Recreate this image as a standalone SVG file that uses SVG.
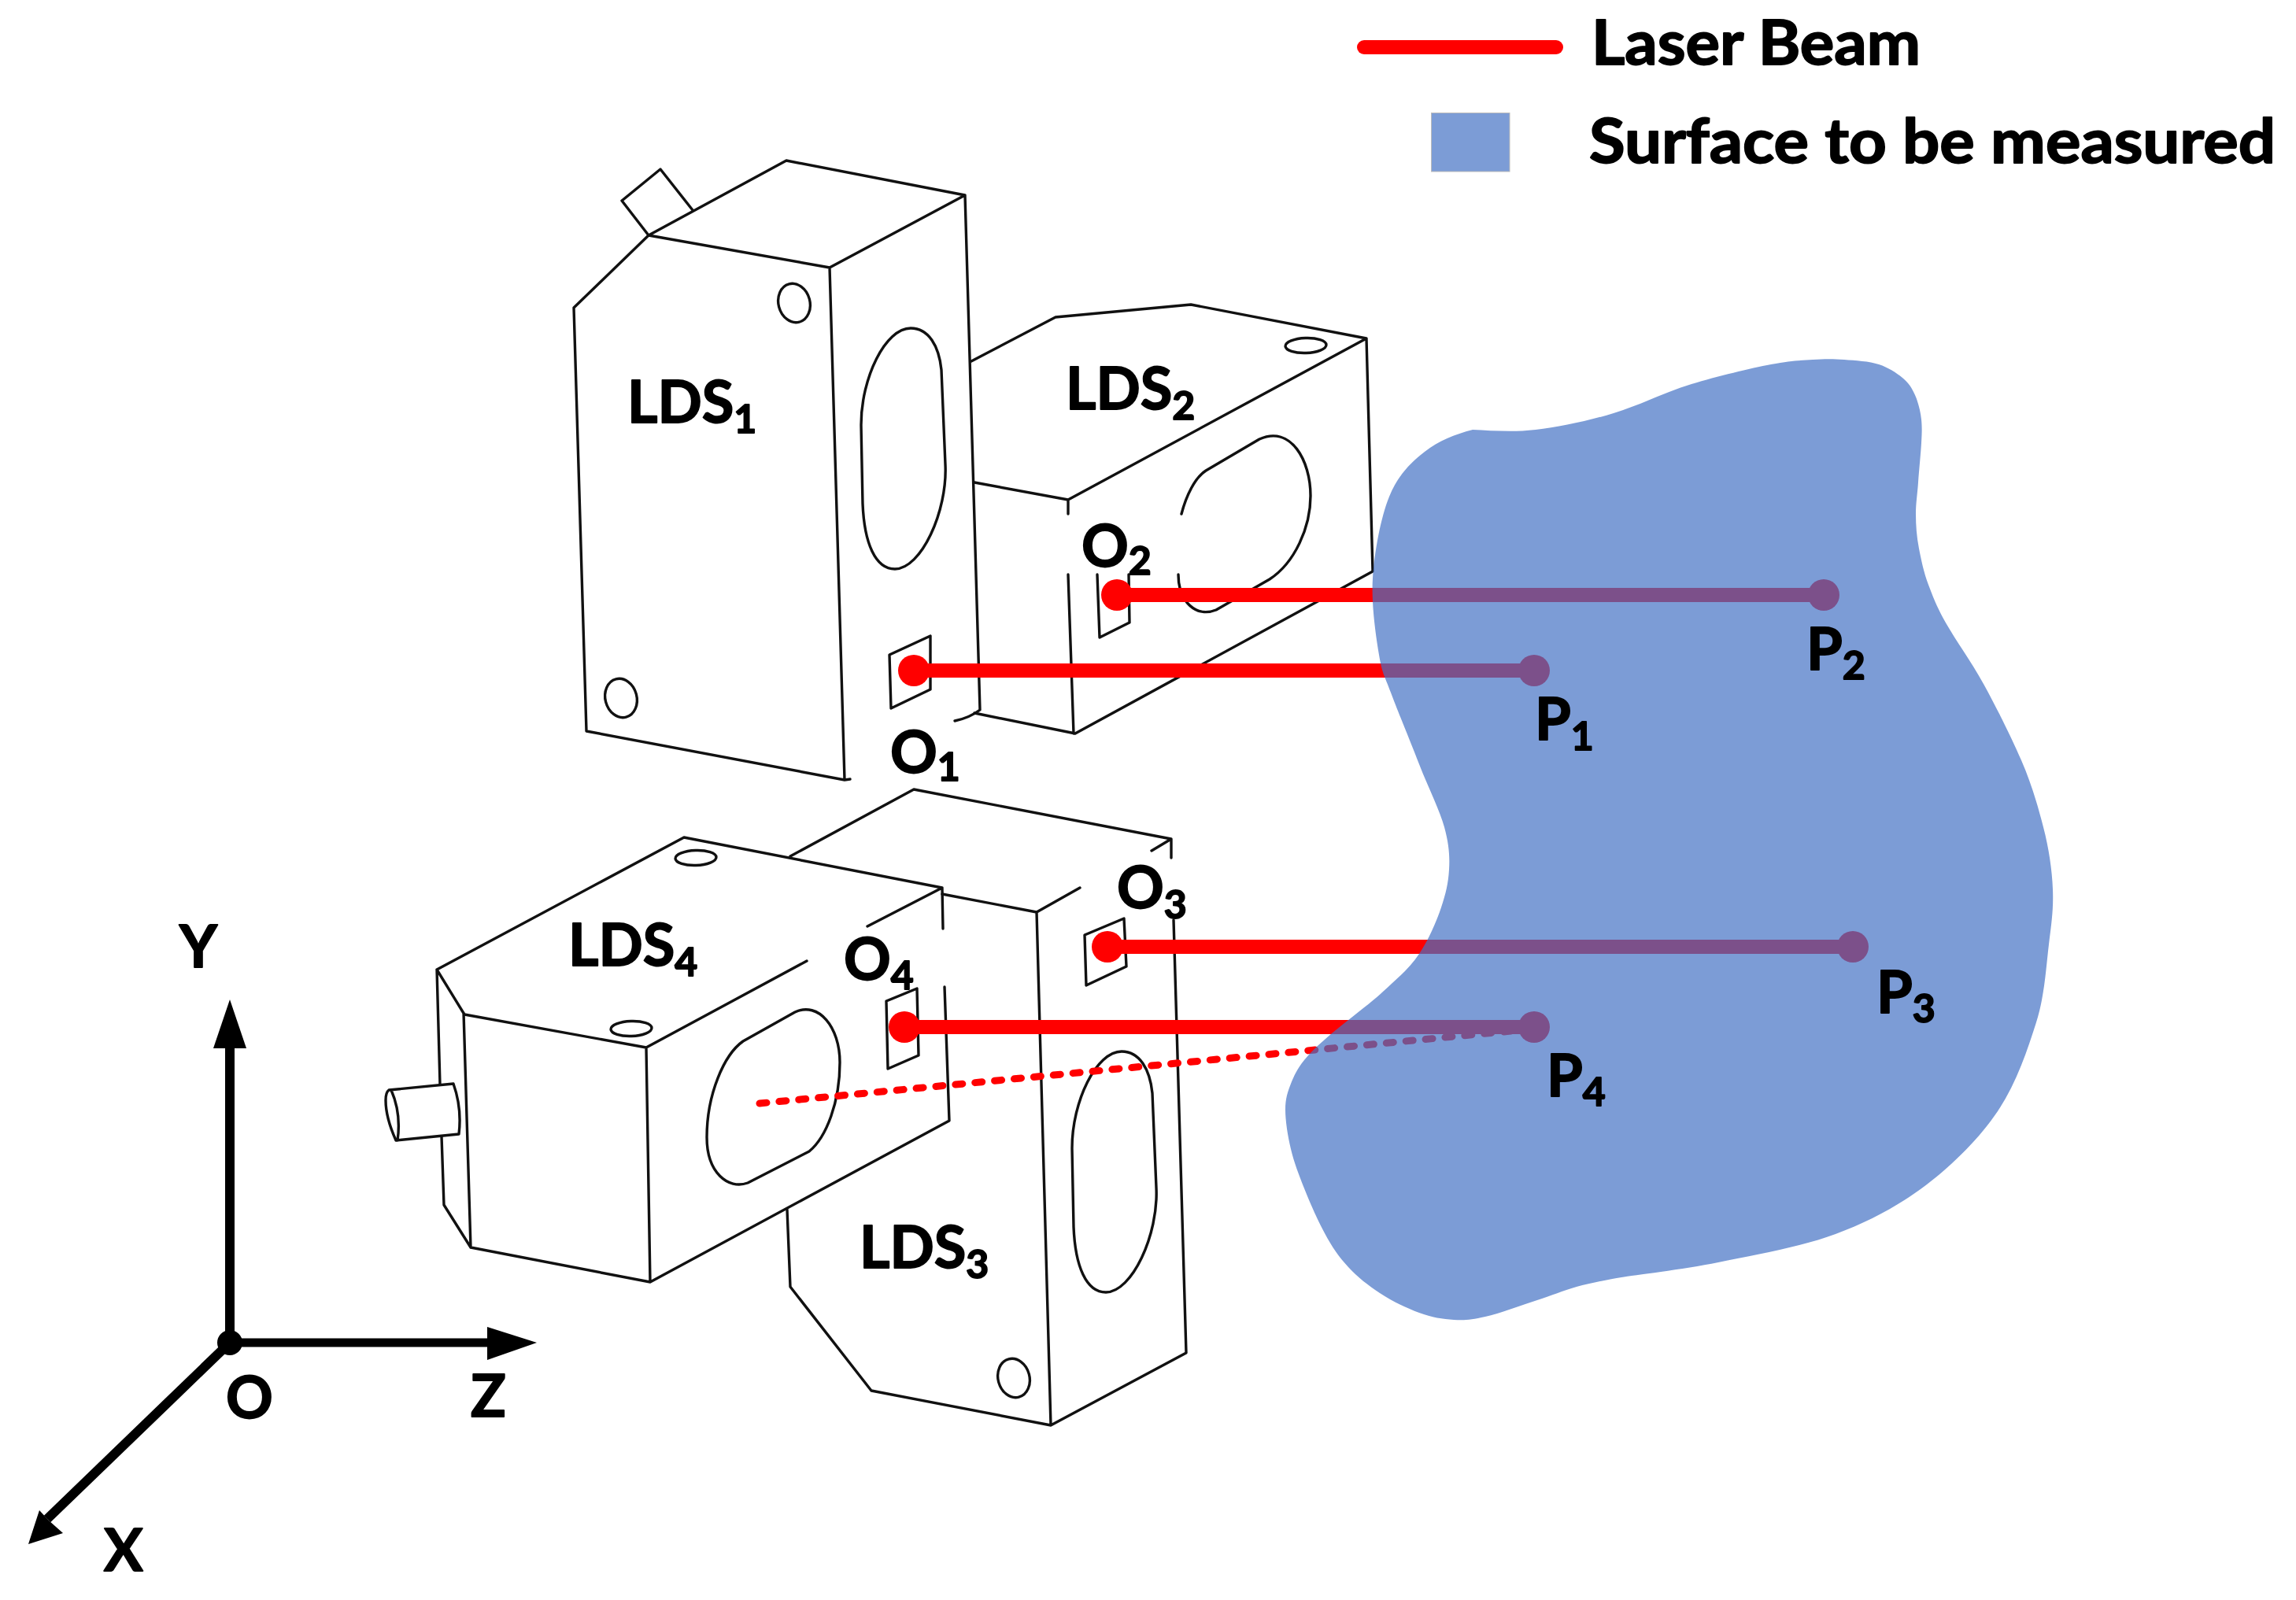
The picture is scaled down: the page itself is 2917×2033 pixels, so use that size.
<svg xmlns="http://www.w3.org/2000/svg" width="2917" height="2033" viewBox="0 0 2917 2033">
<defs>
<path id="slot" d="M1157,417C1180,417 1193,440 1196,470L1201,590C1204,650 1170,723 1137,723C1112,723 1098,690 1096,640L1094,540C1094,480 1125,417 1157,417Z"/>
</defs>
<style>
.l{fill:none;stroke:#111;stroke-width:3.4;stroke-linejoin:round;stroke-linecap:round}
.t{font-family:Lato,"Liberation Sans",sans-serif;font-weight:700;font-size:74px;fill:#000;stroke:#000;stroke-width:1.8;stroke-linejoin:round}
.s{font-size:50px}
.beam{stroke:#f00;stroke-width:18;fill:none}
.dot{fill:#f00}
.ax{stroke:#000;fill:none}
.surf{fill:#4472C4;fill-opacity:.7}
</style>
<rect width="2917" height="2033" fill="#fff"/>
<g id="LDS1">
<path class="l" d="M824,299L999,204L1226,248L1054,340L824,299L729,391L745,929L1073,991L1080,990M1054,340L1073,991M1226,248L1245,902Q1232,912 1213,916"/>
<path class="l" d="M824,299L790,255L839,215L880,267"/>
<ellipse class="l" cx="1009" cy="385" rx="20" ry="25" transform="rotate(-15 1009 385)"/>
<ellipse class="l" cx="789" cy="887" rx="20" ry="25" transform="rotate(-15 789 887)"/>
<use href="#slot" class="l"/>
<path class="l" d="M1130,832L1182,808L1182,876L1132,900Z"/>
<text class="t" x="797" y="537">LDS<tspan class="s" dy="13">1</tspan></text>
</g>
<g id="LDS2">
<path class="l" d="M1234,459L1341,403L1513,387L1736,430L1744,726L1366,932L1238,906M1736,430L1357,635L1238,613M1357,635V653M1357,730L1364,932"/>
<ellipse class="l" cx="1659" cy="439" rx="26" ry="9.5" transform="rotate(-2 1659 439)"/>
<path class="l" d="M1501,653C1507,630 1518,607 1532,598L1600,558C1640,540 1665,585 1665,630C1665,670 1645,715 1613,736L1545,775C1520,785 1497,765 1497,730"/>
<path class="l" d="M1394,730L1397,810L1435,791L1434,730"/>
<text class="t" x="1354" y="520">LDS<tspan class="s" dy="13">2</tspan></text>
</g>
<g id="LDS3">
<path class="l" d="M1004,1088L1161,1003L1488,1066V1090M1488,1066L1463,1081M1197,1136L1317,1159L1372,1128M1317,1159L1335,1811L1507,1719L1491,1169M1335,1811L1107,1767L1004,1635L1000,1537"/>
<ellipse class="l" cx="1288" cy="1751" rx="20" ry="25" transform="rotate(-15 1288 1751)"/>
<use href="#slot" class="l" transform="translate(268 919)"/>
<path class="l" d="M1378,1188L1428,1167L1431,1228L1380,1252Z"/>
<text class="t" x="1092" y="1611">LDS<tspan class="s" dy="13">3</tspan></text>
</g>
<g id="LDS4">
<path class="l" d="M555,1232L869,1064L1197,1128L1102,1177M1025,1221L821,1331L590,1289L555,1232L559,1378M561,1444L564,1531L598,1585L589,1287M598,1585L826,1629L1206,1424L1200,1254M1197,1128L1198,1180M821,1331L826,1629"/>
<path class="l" d="M494,1385L576,1377Q587,1408 583,1441L503,1449Q490,1420 490,1398Q490,1388 494,1385ZM497,1385Q510,1415 505,1449"/>
<ellipse class="l" cx="884" cy="1090" rx="26" ry="9.5" transform="rotate(-2 884 1090)"/>
<ellipse class="l" cx="802" cy="1307" rx="26" ry="9.5" transform="rotate(-2 802 1307)"/>
<path class="l" d="M944,1323L1010,1286C1040,1272 1067,1305 1067,1350C1067,1400 1050,1445 1028,1463L950,1503C925,1512 898,1490 898,1445C898,1390 920,1340 944,1323Z"/>
<path class="l" d="M1126,1272L1165,1256L1167,1341L1128,1358Z"/>
<text class="t" x="722" y="1227">LDS<tspan class="s" dy="13">4</tspan></text>
</g>
<g id="connectors">
<path class="beam" d="M1161,852H1949M1419,756H2317M1407,1203H2354M1149,1305H1949"/>
<path d="M965,1402L1920,1310" fill="none" stroke="#f00" stroke-width="9" stroke-linecap="round" stroke-dasharray="9 16"/>
<circle class="dot" cx="1161" cy="852" r="20"/>
<circle class="dot" cx="1419" cy="756" r="20"/>
<circle class="dot" cx="1407" cy="1203" r="20"/>
<circle class="dot" cx="1149" cy="1305" r="20"/>
<circle class="dot" cx="1949" cy="852" r="20"/>
<circle class="dot" cx="2317" cy="756" r="20"/>
<circle class="dot" cx="2354" cy="1203" r="20"/>
<circle class="dot" cx="1949" cy="1305" r="20"/>
</g>
<g id="surface">
<path class="surf" d="M1871,546C1895,547 1921,549.5 1951,546S2017,535 2050,525S2116,498 2149,488S2224,468 2250,463S2287.5,458 2303,457S2329,456 2343,457S2375,459 2387,463S2409,473.5 2417,480S2429,493 2433,502S2440,523 2441,533S2441.7,550 2441,563S2438,598 2437,613S2434,639 2434,653S2435,682 2438,697S2444,727 2450,743S2461,772 2473,793S2504,840 2520,869S2555,936 2568,966S2589,1024 2596,1051S2607,1105 2608,1130S2606.5,1172 2603,1200S2598,1264 2587,1299S2561,1378 2538,1412S2482,1479 2448,1505S2376,1551.5 2332,1568S2228,1595 2183,1604S2075,1620.5 2060,1623S2021,1630 2003,1635S1972,1646 1953,1652S1905,1669 1887,1673S1861,1678 1847,1677S1819,1674 1803,1668S1768,1653 1753,1643S1725,1623 1713,1610S1692,1584 1683,1567S1664,1528 1657,1510S1644,1477 1640,1460S1633,1424 1633,1410S1636,1387 1640,1377S1648,1358 1657,1347S1675,1327.5 1692,1313S1738.5,1277 1757,1260S1791,1230 1803,1212S1825,1171 1831,1153S1840,1122 1841,1105S1841,1073 1835,1051S1814,999.5 1803,971S1775.5,903 1767,880S1756,856 1752,832S1742,768 1744,735S1754,658 1765,631S1792,588 1810,574S1848,552 1871,546Z"/>
</g>
<g id="labels">
<text class="t" x="1131" y="982">O<tspan class="s" dy="10">1</tspan></text>
<text class="t" x="1374" y="720">O<tspan class="s" dy="10">2</tspan></text>
<text class="t" x="1419" y="1154">O<tspan class="s" dy="13">3</tspan></text>
<text class="t" x="1072" y="1245">O<tspan class="s" dy="12">4</tspan></text>
<text class="t" x="1950" y="940">P<tspan class="s" dy="13">1</tspan></text>
<text class="t" x="2295" y="851">P<tspan class="s" dy="12">2</tspan></text>
<text class="t" x="2384" y="1287">P<tspan class="s" dy="12">3</tspan></text>
<text class="t" x="1965" y="1393">P<tspan class="s" dy="12">4</tspan></text>
</g>
<g id="axes">
<path class="ax" stroke-width="12" d="M292,1706V1325"/>
<path class="ax" stroke-width="11" d="M292,1706H625"/>
<path class="ax" stroke-width="12" d="M292,1706L60,1930"/>
<path d="M292,1270L313,1332H271Z"/>
<path d="M682,1706L619,1728V1686Z"/>
<path d="M36,1962L50,1919L62,1932L80,1948Z"/>
<circle cx="292" cy="1706" r="16"/>
<text class="t" x="228" y="1229">Y</text>
<text class="t" x="287" y="1802">O</text>
<text class="t" x="598" y="1800">Z</text>
<text class="t" x="132" y="1996">X</text>
</g>
<g id="legend">
<line x1="1733" y1="60" x2="1977" y2="60" stroke="#f00" stroke-width="18" stroke-linecap="round"/>
<rect class="surf" x="1818.5" y="143.5" width="99.5" height="74.5" stroke="#bbb" stroke-width="1"/>
<text class="t" x="2022" y="82" style="font-size:78px" textLength="418" lengthAdjust="spacingAndGlyphs">Laser Beam</text>
<text class="t" x="2019" y="207" style="font-size:78px" textLength="872" lengthAdjust="spacingAndGlyphs">Surface to be measured</text>
</g>
</svg>
